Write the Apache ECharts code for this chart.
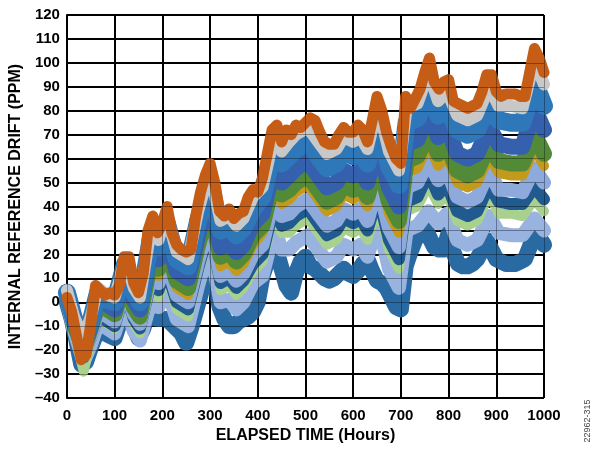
<!DOCTYPE html>
<html>
<head>
<meta charset="utf-8">
<script src="https://cdn.jsdelivr.net/npm/echarts@6/dist/echarts.min.js"></script>
<style>
  html, body { margin: 0; padding: 0; background: #fff; }
  #main { width: 593px; height: 453px; }
</style>
</head>
<body>
<div id="main"></div>
<script>
// x positions (hours)
const hoursFine = [0, 10, 20, 30, 40, 50, 60, 70, 80, 90, 100, 110, 120, 130, 140, 150, 160, 170, 180, 190,
  200, 210, 220, 230, 240, 250, 260, 270, 280, 290, 300, 310, 320, 330, 340, 350, 360, 370, 380, 390,
  400, 410, 420, 430, 440, 450, 460, 470, 480, 490, 500, 510, 520, 530, 540, 550, 560, 570, 580, 590,
  600, 610, 620, 630, 640, 650, 660, 670, 680, 690, 700, 710, 720, 730, 740, 750, 760, 770, 780, 790,
  800, 810, 820, 830, 840, 850, 860, 870, 880, 890, 900, 910, 920, 930, 940, 950, 960, 970, 980, 990, 1000];
const hoursKey = [0, 15, 35, 50, 65, 85, 100, 122, 140, 153, 178, 192, 208, 230, 254, 275, 299, 322, 340, 355,
  370, 390, 410, 435, 450, 466, 480, 505, 530, 545, 565, 580, 600, 615, 630, 652, 675, 696, 712, 735,
  758, 778, 797, 818, 840, 860, 885, 905, 930, 955, 980, 1000];

// top (orange) and bottom (blue) devices, every 10 h
const driftOrange = [2, -4, -14, -24, -22, -9, 7, 5, 3, 4, 3, 7, 19, 19, 8, 4, 12, 30, 36, 29,
  33, 40, 29, 24, 22, 21, 22, 36, 46, 53, 58, 50, 38, 36, 39, 35, 37, 38, 44, 47,
  46, 52, 62, 72, 74, 67, 72, 70, 74, 73, 75, 77, 76, 71, 67, 66, 66, 70, 73, 71,
  71, 74, 72, 67, 76, 86, 80, 71, 65, 60, 58, 86, 81, 85, 89, 96, 102, 92, 89, 92,
  93, 84, 83, 82, 81, 82, 83, 88, 95, 95, 88, 86, 87, 87, 87, 86, 86, 96, 106, 102, 96];
const driftBottom = [0, -7, -16, -26, -25, -19, -14, -12, -13, -14, -15, -9, -5, -3, -10, -15, -11, -5, -4, -7,
  -7, -7, -9, -11, -13, -17, -11, -4, 3, 11, 18, 8, -2, -7, -10, -10, -8, -7, -6, -4,
  0, 11, 17, 22, 21, 14, 7, 4, 12, 17, 19, 15, 14, 12, 10, 9, 10, 12, 14, 12,
  11, 13, 16, 18, 13, 9, 8, 6, 2, -2, -3, 15, 21, 26, 29, 32, 27, 23, 22, 22,
  29, 21, 16, 15, 15, 16, 18, 22, 26, 22, 18, 17, 16, 16, 16, 17, 18, 23, 29, 27, 24];

// in-between devices, at key hours
const driftGray = [5, -6, -15, -6, 6, 3, 2, 18, 6, 2, 33, 26, 37, 21, 18, 38, 55, 34, 36, 32,
  35, 44, 48, 70, 63, 67, 70, 73, 66, 62, 64, 69, 67, 69, 64, 82, 63, 55, 81, 83,
  96, 84, 88, 78, 76, 78, 90, 82, 82, 81, 101, 91];
const driftBlue = [4, -7, -16, -8, 4, 1, 0, 16, 4, 0, 29, 23, 34, 18, 15, 34, 51, 30, 32, 28,
  31, 39, 44, 66, 58, 61, 64, 67, 60, 56, 58, 63, 61, 63, 58, 76, 57, 49, 75, 77,
  89, 78, 82, 72, 70, 72, 83, 76, 75, 75, 92, 82];
const driftRoyal = [4, -8, -18, -10, 1, -1, -3, 13, 1, -3, 24, 18, 28, 13, 10, 28, 45, 23, 25, 21,
  24, 33, 37, 58, 50, 53, 56, 59, 52, 48, 50, 55, 53, 55, 50, 67, 48, 40, 66, 68,
  79, 69, 73, 62, 60, 62, 73, 66, 65, 65, 81, 72];
const driftGreen = [3, -9, -20, -11, -1, -3, -5, 10, -2, -6, 20, 14, 24, 9, 6, 24, 41, 19, 21, 17,
  20, 28, 32, 53, 45, 47, 50, 53, 46, 42, 44, 49, 47, 49, 44, 60, 42, 34, 59, 61,
  71, 62, 66, 55, 53, 55, 66, 59, 58, 58, 70, 62];
const driftGold = [3, -9, -21, -13, -2, -4, -6, 9, -3, -7, 17, 11, 21, 6, 3, 21, 38, 15, 17, 13,
  16, 24, 29, 50, 41, 43, 46, 49, 42, 38, 40, 45, 43, 45, 40, 56, 37, 29, 54, 56,
  66, 57, 61, 50, 48, 50, 61, 54, 53, 53, 64, 57];
const driftPeri = [2, -10, -22, -14, -4, -6, -8, 7, -5, -9, 13, 8, 18, 3, 0, 17, 34, 11, 13, 9,
  12, 20, 24, 45, 36, 37, 40, 43, 36, 32, 34, 39, 37, 39, 34, 50, 31, 23, 48, 50,
  59, 51, 55, 44, 42, 44, 55, 47, 47, 46, 56, 50];
const driftNavy = [2, -10, -23, -15, -6, -8, -10, 5, -7, -11, 10, 5, 14, 0, -3, 14, 31, 8, 10, 6,
  9, 16, 20, 41, 32, 33, 36, 39, 32, 28, 30, 35, 33, 35, 30, 45, 26, 18, 42, 44,
  54, 45, 49, 38, 36, 38, 49, 42, 41, 41, 48, 43];
const driftLightGreen = [1, -11, -29, -16, -7, -9, -11, 3, -9, -13, 7, 2, 12, -3, -6, 12, 29, 5, 7, 3,
  6, 13, 17, 38, 29, 29, 32, 35, 28, 24, 26, 31, 29, 31, 26, 41, 22, 14, 38, 40,
  49, 41, 45, 34, 32, 34, 45, 37, 37, 36, 43, 38];
const driftLightPeri = [1, -12, -25, -18, -9, -11, -13, 0, -12, -16, 2, -2, 7, -7, -10, 7, 24, 0, 1, -3,
  0, 8, 11, 31, 22, 22, 25, 28, 21, 17, 19, 24, 22, 24, 19, 34, 14, 6, 30, 32,
  38, 33, 37, 26, 24, 26, 36, 29, 28, 28, 35, 30];

const xTicks = { min: 0, max: 1000, interval: 100 };
const yTicks = { min: -40, max: 120, interval: 10 };

const font = "'Liberation Sans', Arial, sans-serif";

function pairs(xs, ys) {
  return xs.map((x, i) => [x, ys[i]]);
}

function band(name, xs, ys, color, width) {
  return {
    name: name,
    type: 'line',
    data: pairs(xs, ys),
    symbol: 'none',
    lineStyle: { color: color, width: width, cap: 'round', join: 'round' },
    z: 2
  };
}

const chart = echarts.init(document.getElementById('main'));
chart.setOption({
  animation: false,
  backgroundColor: '#fff',
  grid: { left: 65, right: 49, top: 15, bottom: 55, show: false },
  xAxis: [
    {
      type: 'value', min: xTicks.min, max: xTicks.max, interval: xTicks.interval,
      name: 'ELAPSED TIME (Hours)', nameLocation: 'middle', nameGap: 27,
      nameTextStyle: { fontFamily: font, fontWeight: 'bold', fontSize: 16, color: '#000' },
      axisLine: { show: true, lineStyle: { color: '#000', width: 2 } },
      axisTick: { show: false },
      axisLabel: {
        margin: 10, fontFamily: font, fontWeight: 'bold', fontSize: 15, color: '#000',
        formatter: v => String(v)
      },
      splitLine: { show: true, lineStyle: { color: '#000', width: 2 } }
    },
    {
      type: 'value', min: xTicks.min, max: xTicks.max, interval: xTicks.interval,
      axisLine: { show: false }, axisTick: { show: false }, axisLabel: { show: false },
      splitLine: { show: true, lineStyle: { color: 'rgba(0,0,0,0.35)', width: 1 } },
      z: 10
    }
  ],
  yAxis: [
    {
      type: 'value', min: yTicks.min, max: yTicks.max, interval: yTicks.interval,
      name: 'INTERNAL REFERENCE DRIFT (PPM)', nameLocation: 'middle', nameGap: 40,
      nameTextStyle: { fontFamily: font, fontWeight: 'bold', fontSize: 16, color: '#000' },
      axisLine: { show: true, lineStyle: { color: '#000', width: 2 } },
      axisTick: { show: false },
      axisLabel: {
        margin: 7, fontFamily: font, fontWeight: 'bold', fontSize: 15, color: '#000',
        formatter: v => (v < 0 ? '\u2013' + Math.abs(v) : String(v))
      },
      splitLine: { show: true, lineStyle: { color: '#000', width: 2 } }
    },
    {
      type: 'value', min: yTicks.min, max: yTicks.max, interval: yTicks.interval,
      axisLine: { show: false }, axisTick: { show: false }, axisLabel: { show: false },
      splitLine: { show: true, lineStyle: { color: 'rgba(0,0,0,0.35)', width: 1 } },
      z: 10
    }
  ],
  graphic: [
    {
      type: 'text', x: 588, y: 421, rotation: Math.PI / 2,
      style: { text: '22962-315', fontFamily: font, fontSize: 9, fill: '#444', align: 'center', verticalAlign: 'middle' }
    }
  ],
  series: [
    band('bottom', hoursFine, driftBottom, '#2a6aa3', 16),
    band('lightperi', hoursKey, driftLightPeri, '#98b3e0', 14),
    band('lightgreen', hoursKey, driftLightGreen, '#a9d18e', 10),
    band('navy', hoursKey, driftNavy, '#205a8e', 12),
    band('peri', hoursKey, driftPeri, '#8eaadc', 14),
    band('gold', hoursKey, driftGold, '#c49a1c', 10),
    band('green', hoursKey, driftGreen, '#528a38', 16),
    band('royal', hoursKey, driftRoyal, '#3560ad', 16),
    band('blue', hoursKey, driftBlue, '#2e78ba', 18),
    band('gray', hoursKey, driftGray, '#c8c8c8', 12),
    band('orange', hoursFine, driftOrange, '#c65d17', 11)
  ]
});
</script>
</body>
</html>
